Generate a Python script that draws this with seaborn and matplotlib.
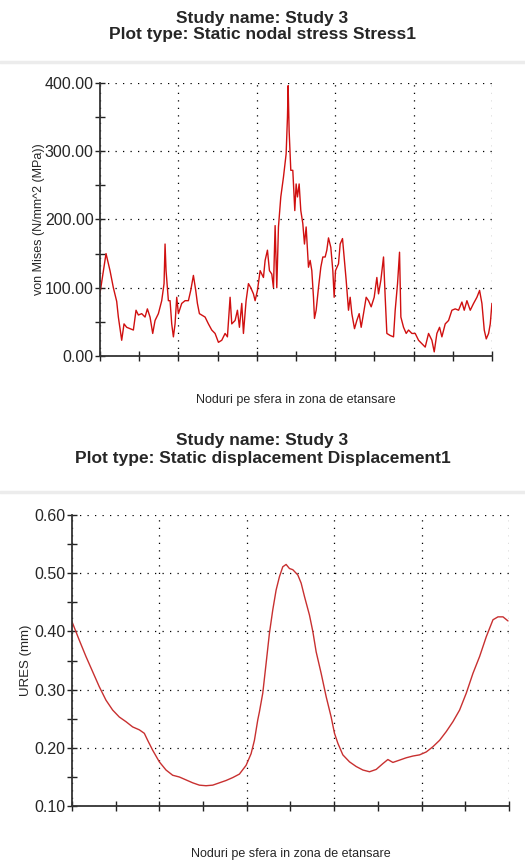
import pandas as pd
import seaborn as sns
import matplotlib.pyplot as plt
from matplotlib.ticker import MultipleLocator, FormatStrFormatter


# stress along the nodes (position along the arc, von Mises value)
stress_pos = [0, 18, 30, 40, 50, 55, 62, 65, 72, 80, 90, 100, 108, 115, 125, 135, 142, 150,
              158, 165, 175, 185, 192, 195, 198, 205, 210, 215, 220, 225, 230, 235, 245, 255,
              265, 272, 280, 287, 292, 298, 305, 315, 325, 335, 345, 355, 365, 375, 382, 390,
              395, 405, 412, 418, 425, 430, 438, 445, 452, 460, 465, 472, 480,
              490, 495, 502, 508, 515, 520, 525, 530, 535, 542, 550, 558, 562, 564, 567, 572,
              578, 584, 588, 592, 597, 602, 608, 613, 618, 625, 630, 635, 640, 643, 648, 655,
              662, 668, 675, 680, 685, 692, 698, 702, 706, 715, 720, 727, 732, 738, 745, 750,
              755, 763, 770, 777, 783, 790, 798, 805, 813, 822, 830, 835, 842, 850, 855, 860,
              870, 880, 885, 892, 898, 902, 910, 918, 925, 935, 945, 955, 965, 975, 985, 995,
              1002, 1010, 1018, 1025, 1035, 1045, 1055, 1065, 1075, 1085, 1092, 1100, 1110,
              1120, 1130, 1138, 1145, 1152, 1158, 1165, 1170, 1175]
stress_val = [92, 150, 125, 100, 80, 57, 33, 23, 47, 42, 40, 38, 67, 60, 62, 57, 69, 57,
              33, 52, 62, 81, 106, 164, 125, 81, 81, 47, 28, 47, 86, 62, 77, 81,
              81, 96, 118, 96, 77, 62, 60, 57, 47, 38, 33, 20, 23, 33, 28, 86,
              47, 52, 67, 42, 77, 33, 81, 106, 100, 91, 81, 96, 125,
              115, 140, 155, 125, 120, 100, 191, 100, 189, 233, 262, 296, 350, 396, 330, 272,
              272, 213, 252, 233, 252, 213, 194, 164, 189, 130, 140, 125, 86, 55, 67, 100,
              130, 145, 145, 155, 173, 159, 125, 86, 125, 135, 164, 172, 145, 111, 67, 86,
              62, 40, 52, 62, 42, 62, 86, 81, 72, 86, 115, 91, 111, 145, 86, 33,
              30, 28, 67, 106, 152, 57, 42, 33, 38, 33, 33, 23, 18, 13, 33, 23,
              6, 33, 42, 28, 47, 52, 67, 69, 67, 79, 67, 81, 67,
              77, 86, 96, 77, 38, 25, 33, 47, 77]

# resultant displacement along the nodes
disp_pos = [0, 22, 42, 62, 82, 102, 122, 142, 162, 182, 202, 217, 227, 242, 262, 282, 302,
            322, 342, 362, 382, 402, 422, 442, 462, 482, 502, 522, 537, 547, 557, 562,
            572, 582, 592, 602, 612, 622, 632, 642, 652, 662, 677, 687, 697, 712, 722, 732,
            747, 762, 777, 787, 797, 812, 832, 852, 872, 892, 912, 932, 947, 962, 982, 1002,
            1022, 1042, 1062, 1082, 1102, 1122, 1142, 1162, 1182, 1202, 1222, 1242, 1262,
            1277, 1292, 1307]
disp_val = [0.417, 0.385, 0.357, 0.331, 0.305, 0.282, 0.265, 0.253, 0.245, 0.236, 0.231,
            0.225, 0.213, 0.196, 0.176, 0.162, 0.153, 0.150, 0.145, 0.140, 0.136, 0.135,
            0.136, 0.140, 0.144, 0.149, 0.155, 0.170, 0.190, 0.213, 0.248, 0.262,
            0.294, 0.345, 0.397, 0.437, 0.471, 0.494, 0.511, 0.515, 0.508, 0.506, 0.497,
            0.483, 0.460, 0.428, 0.400, 0.365, 0.328, 0.288, 0.253, 0.225, 0.208, 0.188,
            0.176, 0.168, 0.162, 0.159, 0.163, 0.173, 0.180, 0.175, 0.179, 0.183, 0.186,
            0.188, 0.193, 0.202, 0.213, 0.228, 0.245, 0.265, 0.294, 0.328, 0.357, 0.391,
            0.420, 0.425, 0.425, 0.418]

stress = pd.DataFrame({'node': stress_pos, 'vm': stress_val})
disp = pd.DataFrame({'node': disp_pos, 'ures': disp_val})

sns.set_style('white')
plt.rcParams['font.family'] = ['Liberation Sans', 'DejaVu Sans']

fig = plt.figure(figsize=(5.25, 8.64), dpi=100)
ax1 = fig.add_axes([0.1905, 0.588, 0.7465, 0.316])
ax2 = fig.add_axes([0.137, 0.067, 0.8325, 0.337])

sns.lineplot(data=stress, x='node', y='vm', ax=ax1, color='#d01010', lw=1, estimator=None)
sns.lineplot(data=disp, x='node', y='ures', ax=ax2, color='#c83030', lw=1, estimator=None)


def style_axis(ax, xmax, xstep, ylim, ystep):
    ax.set_xlim(0, xmax)
    ax.set_ylim(*ylim)
    ax.xaxis.set_major_locator(MultipleLocator(xstep))
    ax.xaxis.set_minor_locator(MultipleLocator(xstep / 2))
    ax.yaxis.set_major_locator(MultipleLocator(ystep))
    ax.yaxis.set_minor_locator(MultipleLocator(ystep / 2))
    ax.yaxis.set_major_formatter(FormatStrFormatter('%.2f'))
    ax.tick_params(which='both', direction='inout', length=7, width=1, color='#222222')
    ax.tick_params(axis='x', which='both', labelbottom=False, bottom=True)
    ax.tick_params(axis='y', which='both', left=True, labelsize=11.5, pad=1)
    ax.grid(True, which='major', color='black', linestyle=(0, (1, 5)), lw=0.9)
    for side in ['top', 'right']:
        ax.spines[side].set_visible(False)
    for side in ['left', 'bottom']:
        ax.spines[side].set_color('#333333')
        ax.spines[side].set_linewidth(1.3)


style_axis(ax1, 1175, 235, (0, 400), 100)
style_axis(ax2, 1310, 262, (0.1, 0.6), 0.1)

ax1.set_xlabel('Noduri pe sfera in zona de etansare', fontsize=9, labelpad=24)
ax1.set_ylabel('von Mises (N/mm^2 (MPa))', fontsize=9, labelpad=0)
ax2.set_xlabel('Noduri pe sfera in zona de etansare', fontsize=9, labelpad=27)
ax2.set_ylabel('URES (mm)', fontsize=9.5, labelpad=2)

fig.text(0.5, 1 - 18 / 864, 'Study name: Study 3', ha='center', va='center',
         fontsize=12.5, fontweight='bold')
fig.text(0.5, 1 - 35 / 864, 'Plot type: Static nodal stress Stress1', ha='center',
         va='center', fontsize=12.5, fontweight='bold')
fig.text(0.5, 1 - 440 / 864, 'Study name: Study 3', ha='center', va='center',
         fontsize=12.5, fontweight='bold')
fig.text(0.5, 1 - 458 / 864, 'Plot type: Static displacement Displacement1', ha='center',
         va='center', fontsize=12.5, fontweight='bold')

# light separators under the titles
for yy in [62, 492]:
    fig.add_artist(plt.Line2D([0, 1], [1 - yy / 864] * 2, color='#ececec', lw=2.5))

fig.savefig('out.png', dpi=100)
